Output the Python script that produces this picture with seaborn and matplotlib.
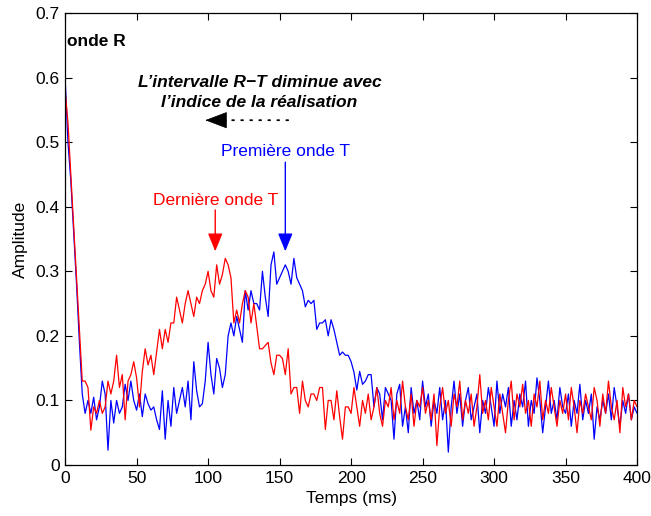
import numpy as np
import pandas as pd
import matplotlib
matplotlib.use("Agg")
import matplotlib.pyplot as plt
import seaborn as sns

# time grid (ms), 2 ms step
temps = list(range(0, 401, 2))

premiere_onde = [
    0.60, 0.50, 0.44, 0.36, 0.28, 0.19, 0.11, 0.08, 0.10, 0.08,
    0.105, 0.07, 0.09, 0.13, 0.11, 0.023, 0.10, 0.065, 0.10, 0.08,
    0.09, 0.125, 0.10, 0.13, 0.10, 0.085, 0.11, 0.075, 0.11, 0.095,
    0.085, 0.09, 0.07, 0.055, 0.115, 0.04, 0.10, 0.06, 0.12, 0.08,
    0.10, 0.12, 0.09, 0.13, 0.07, 0.16, 0.115, 0.09, 0.095, 0.13,
    0.19, 0.14, 0.11, 0.165, 0.15, 0.12, 0.14, 0.20, 0.22, 0.20,
    0.23, 0.21, 0.19, 0.27, 0.24, 0.27, 0.25, 0.25, 0.24, 0.30,
    0.26, 0.23, 0.31, 0.33, 0.28, 0.29, 0.30, 0.31, 0.30, 0.28,
    0.32, 0.29, 0.28, 0.27, 0.245, 0.255, 0.25, 0.255, 0.21, 0.22,
    0.22, 0.225, 0.20, 0.225, 0.21, 0.19, 0.17, 0.175, 0.17, 0.17,
    0.16, 0.144, 0.116, 0.145, 0.125, 0.13, 0.14, 0.14, 0.09, 0.12,
    0.11, 0.07, 0.12, 0.11, 0.10, 0.04, 0.11, 0.125, 0.06, 0.09,
    0.05, 0.12, 0.08, 0.10, 0.07, 0.13, 0.09, 0.11, 0.06, 0.10,
    0.08, 0.12, 0.07, 0.10, 0.02, 0.09, 0.13, 0.08, 0.11, 0.06,
    0.10, 0.12, 0.07, 0.09, 0.11, 0.05, 0.10, 0.08, 0.12, 0.09,
    0.06, 0.13, 0.08, 0.11, 0.09, 0.12, 0.06, 0.10, 0.07, 0.11,
    0.09, 0.13, 0.06, 0.10, 0.08, 0.135, 0.10, 0.05, 0.09, 0.13,
    0.08, 0.10, 0.07, 0.12, 0.09, 0.08, 0.11, 0.06, 0.10, 0.08,
    0.125, 0.07, 0.10, 0.08, 0.11, 0.04, 0.09, 0.07, 0.10, 0.08,
    0.11, 0.07, 0.12, 0.09, 0.06, 0.10, 0.08, 0.11, 0.07, 0.09,
    0.08,
]

derniere_onde = [
    0.58, 0.53, 0.45, 0.37, 0.29, 0.21, 0.13, 0.13, 0.12, 0.054,
    0.09, 0.08, 0.10, 0.08, 0.09, 0.13, 0.11, 0.13, 0.17, 0.12,
    0.14, 0.07, 0.13, 0.14, 0.16, 0.135, 0.09, 0.145, 0.18, 0.155,
    0.17, 0.14, 0.175, 0.21, 0.18, 0.21, 0.19, 0.22, 0.22, 0.26,
    0.24, 0.22, 0.25, 0.27, 0.25, 0.23, 0.26, 0.25, 0.27, 0.28,
    0.30, 0.27, 0.26, 0.31, 0.28, 0.295, 0.32, 0.31, 0.29, 0.22,
    0.24, 0.22, 0.25, 0.27, 0.26, 0.22, 0.25, 0.215, 0.18, 0.18,
    0.185, 0.19, 0.158, 0.14, 0.17, 0.17, 0.165, 0.14, 0.18, 0.11,
    0.12, 0.12, 0.08, 0.13, 0.10, 0.09, 0.11, 0.11, 0.10, 0.12,
    0.12, 0.055, 0.10, 0.10, 0.07, 0.115, 0.075, 0.04, 0.09, 0.09,
    0.08, 0.12, 0.09, 0.06, 0.10, 0.08, 0.11, 0.07, 0.09, 0.12,
    0.08, 0.06, 0.10, 0.09, 0.12, 0.07, 0.10, 0.08, 0.13, 0.09,
    0.07, 0.11, 0.06, 0.10, 0.09, 0.12, 0.08, 0.10, 0.07, 0.11,
    0.03, 0.09, 0.12, 0.08, 0.10, 0.06, 0.11, 0.09, 0.13, 0.07,
    0.10, 0.08, 0.11, 0.06, 0.09, 0.14, 0.08, 0.10, 0.07, 0.12,
    0.09, 0.06, 0.11, 0.08, 0.05, 0.10, 0.13, 0.07, 0.11, 0.09,
    0.125, 0.08, 0.10, 0.06, 0.11, 0.09, 0.13, 0.07, 0.10, 0.08,
    0.12, 0.09, 0.06, 0.10, 0.08, 0.11, 0.07, 0.12, 0.09, 0.05,
    0.10, 0.08, 0.11, 0.09, 0.07, 0.12, 0.10, 0.06, 0.11, 0.08,
    0.13, 0.09, 0.07, 0.10, 0.05, 0.12, 0.09, 0.11, 0.07, 0.10,
    0.09,
]

xticks = [0, 50, 100, 150, 200, 250, 300, 350, 400]
yticks = [0, 0.1, 0.2, 0.3, 0.4, 0.5, 0.6, 0.7]
ytick_labels = ["0", "0.1", "0.2", "0.3", "0.4", "0.5", "0.6", "0.7"]

FS = 12.5

sns.set_style("ticks")
plt.rcParams["font.family"] = ["Liberation Sans", "DejaVu Sans"]
plt.rcParams["xtick.direction"] = "in"
plt.rcParams["ytick.direction"] = "in"
plt.rcParams["text.color"] = "black"
plt.rcParams["axes.labelcolor"] = "black"

df = pd.DataFrame({"Temps": temps, "Premiere": premiere_onde, "Derniere": derniere_onde})

fig = plt.figure(figsize=(6.51, 5.16), dpi=100)
ax = fig.add_axes([0.1, 0.0988, 0.8786, 0.876])

sns.lineplot(data=df, x="Temps", y="Premiere", color="#0000ff", lw=0.9, ax=ax)
sns.lineplot(data=df, x="Temps", y="Derniere", color="#ff0000", lw=0.9, ax=ax)

ax.set_xlim(0, 400)
ax.set_ylim(0, 0.7)
ax.set_xticks(xticks)
ax.set_xticklabels([str(v) for v in xticks])
ax.set_yticks(yticks)
ax.set_yticklabels(ytick_labels)
ax.tick_params(axis="both", which="both", direction="in", top=True, right=True,
               length=5, width=0.8, labelsize=FS, colors="black", pad=4)
for s in ax.spines.values():
    s.set_visible(True)
    s.set_color("black")
    s.set_linewidth(0.9)
ax.set_xlabel("Temps (ms)", fontsize=FS, labelpad=4, color="black")
ax.set_ylabel("Amplitude", fontsize=FS, labelpad=5, color="black")

ax.text(1, 0.656, "onde R", fontsize=FS, fontweight="bold", ha="left", va="center", color="black")
ax.text(136, 0.592, "L\u2019intervalle R\u2212T diminue avec", fontsize=FS,
        fontweight="bold", fontstyle="italic", ha="center", va="center", color="black")
ax.text(136, 0.562, "l\u2019indice de la r\u00e9alisation", fontsize=FS,
        fontweight="bold", fontstyle="italic", ha="center", va="center", color="black")
# dotted shaft
ax.annotate("", xy=(110, 0.534), xytext=(156, 0.534),
            arrowprops=dict(arrowstyle="-", color="black", lw=1.3,
                            linestyle=(0, (1, 4)), shrinkA=0, shrinkB=0))
# solid triangular head
ax.annotate("", xy=(98, 0.534), xytext=(113, 0.534),
            arrowprops=dict(arrowstyle="-|>,head_length=1.45,head_width=0.55",
                            color="black", lw=0.5, shrinkA=0, shrinkB=0))

ax.text(154, 0.485, "Premi\u00e8re onde T", color="#0000ff", fontsize=FS, ha="center", va="center")
ax.annotate("", xy=(154, 0.331), xytext=(154, 0.469),
            arrowprops=dict(arrowstyle="-|>,head_length=1.1,head_width=0.45",
                            color="#0000ff", lw=1.0, shrinkA=0, shrinkB=0))
ax.text(105, 0.409, "Derni\u00e8re onde T", color="#ff0000", fontsize=FS, ha="center", va="center")
ax.annotate("", xy=(105, 0.331), xytext=(105, 0.395),
            arrowprops=dict(arrowstyle="-|>,head_length=1.1,head_width=0.45",
                            color="#ff0000", lw=1.0, shrinkA=0, shrinkB=0))

fig.savefig("out.png", dpi=100)
